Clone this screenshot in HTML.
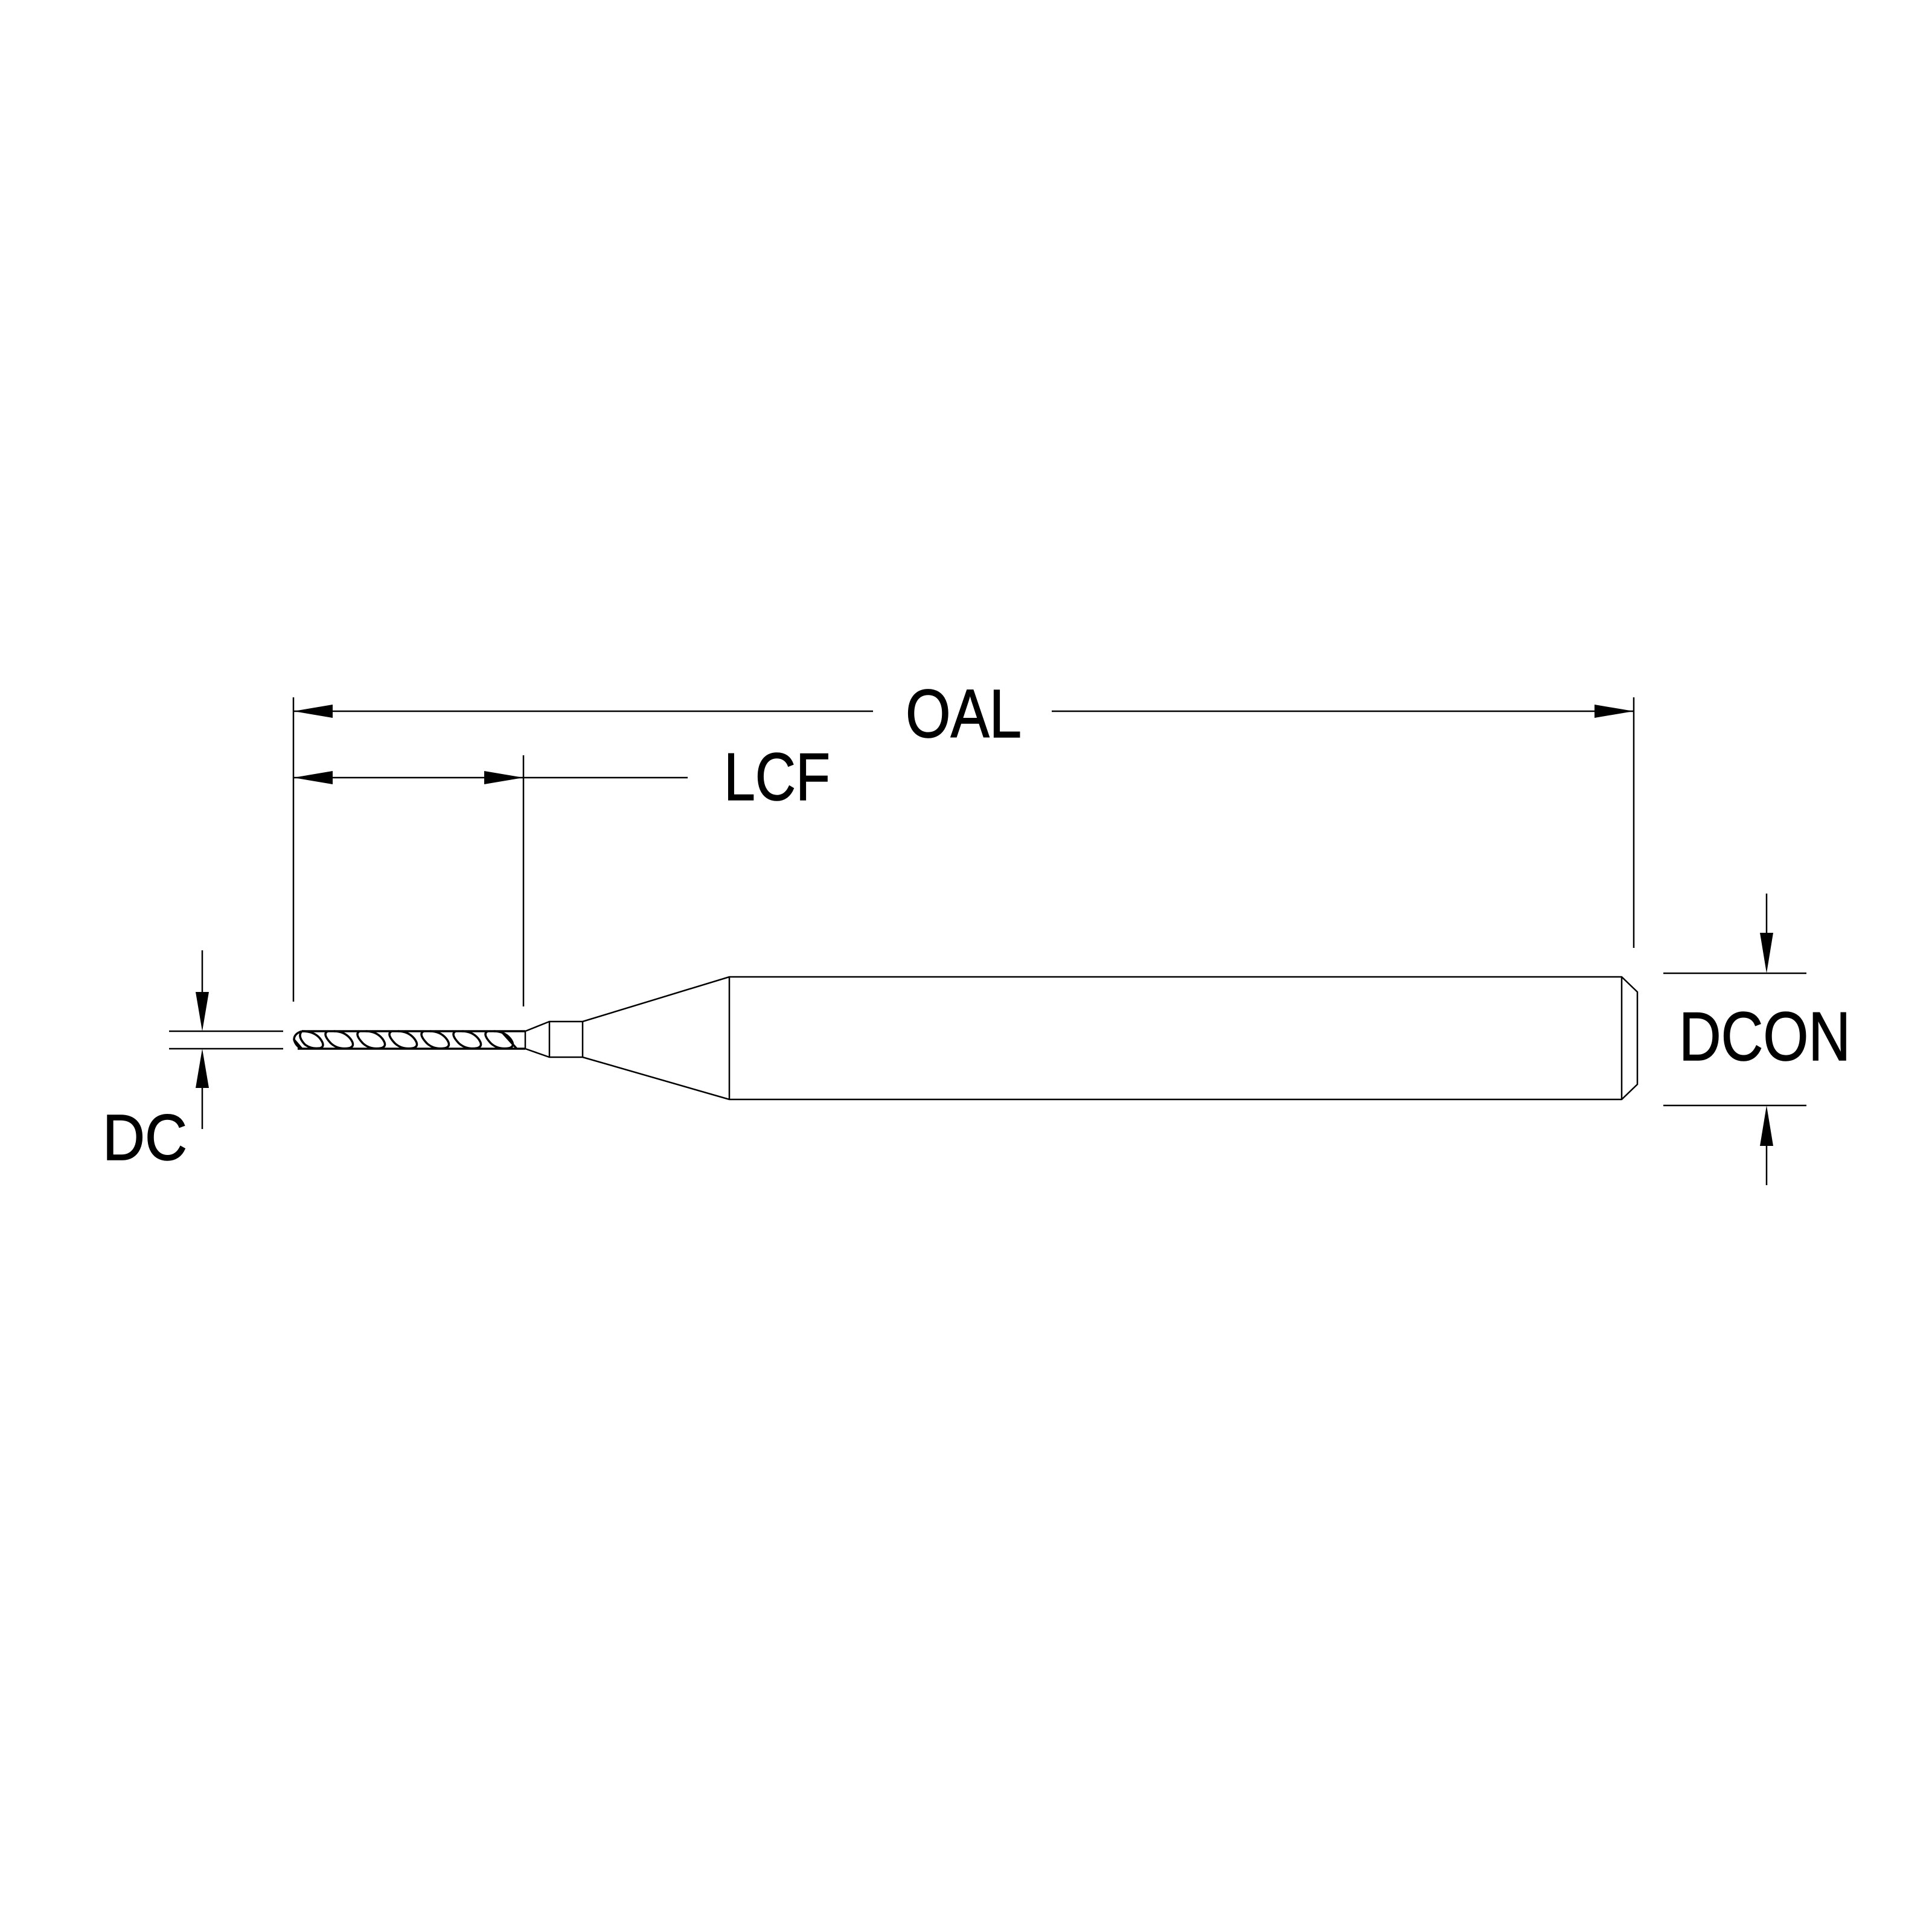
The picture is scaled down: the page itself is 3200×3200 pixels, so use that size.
<!DOCTYPE html>
<html><head><meta charset="utf-8"><style>
html,body{margin:0;padding:0;background:#fff;}
svg{display:block;}
text{font-family:"Liberation Sans",sans-serif;fill:#000;stroke:#000;stroke-width:1.5;}
</style></head><body>
<svg width="3200" height="3200" viewBox="0 0 3200 3200" xmlns="http://www.w3.org/2000/svg">
<rect width="3200" height="3200" fill="#fff"/>
<g stroke="#000" stroke-width="2.5" fill="none">
  <line x1="486" y1="1178" x2="1446" y2="1178"/>
  <line x1="1742" y1="1178" x2="2706" y2="1178"/>
  <line x1="486" y1="1155" x2="486" y2="1659"/>
  <line x1="2706" y1="1155" x2="2706" y2="1570"/>
  <line x1="486" y1="1288" x2="1139" y2="1288"/>
  <line x1="867" y1="1251" x2="867" y2="1667"/>
  <line x1="280" y1="1708" x2="469" y2="1708"/>
  <line x1="280" y1="1737" x2="469" y2="1737"/>
  <line x1="335" y1="1574" x2="335" y2="1660"/>
  <line x1="335" y1="1790" x2="335" y2="1870"/>
  <line x1="2755" y1="1612" x2="2992" y2="1612"/>
  <line x1="2755" y1="1831" x2="2992" y2="1831"/>
  <line x1="2926" y1="1480" x2="2926" y2="1560"/>
  <line x1="2926" y1="1880" x2="2926" y2="1963"/>
  <polyline points="870,1708 910,1692 965,1692 1208,1618 2686,1618 2712,1643 2712,1796 2686,1821 1208,1821 965,1751 910,1751 870,1737"/>
  <line x1="910" y1="1692" x2="910" y2="1751"/>
  <line x1="965" y1="1692" x2="965" y2="1751"/>
  <line x1="1208" y1="1618" x2="1208" y2="1821"/>
  <line x1="2686" y1="1618" x2="2686" y2="1821"/>
  <line x1="870" y1="1708" x2="870" y2="1737"/>
</g>
<g stroke="#000" stroke-width="3.5" fill="none" stroke-linejoin="round">
  <path d="M500,1708 L870,1708 M493,1737 L870,1737"/>
  <path d="M500,1708 Q487,1712 487,1722 Q490,1733 500,1737 M487,1722 L500,1737"/>
  <path d="M500,1708 Q492,1716 505,1730 Q515,1738 530,1736 Q540,1733 530,1720 Q520,1708 500,1708"/>
  <path d="M543,1708 Q533,1712 548,1728 Q560,1739 578,1736 Q590,1733 580,1720 Q570,1708 553,1708"/>
  <path d="M596,1708 Q586,1712 601,1728 Q613,1739 631,1736 Q643,1733 633,1720 Q623,1708 606,1708"/>
  <path d="M649,1708 Q639,1712 654,1728 Q666,1739 684,1736 Q696,1733 686,1720 Q676,1708 659,1708"/>
  <path d="M702,1708 Q692,1712 707,1728 Q719,1739 737,1736 Q749,1733 739,1720 Q729,1708 712,1708"/>
  <path d="M755,1708 Q745,1712 760,1728 Q772,1739 790,1736 Q802,1733 792,1720 Q782,1708 765,1708"/>
  <path d="M808,1708 Q798,1712 813,1728 Q825,1739 843,1736 Q855,1733 845,1720 Q835,1708 818,1708"/>
  <path d="M830,1708 L856,1737"/>
</g>
<g fill="#000">
  <polygon points="486,1178 551,1167 551,1189"/>
  <polygon points="2706,1178 2641,1167 2641,1189"/>
  <polygon points="486,1288 551,1277 551,1299"/>
  <polygon points="867,1288 802,1277 802,1299"/>
  <polygon points="335,1708 324,1643 346,1643"/>
  <polygon points="335,1737 324,1802 346,1802"/>
  <polygon points="2926,1612 2915,1545 2937,1545"/>
  <polygon points="2926,1831 2915,1898 2937,1898"/>
</g>
<text x="1500" y="1221" font-size="113" textLength="192" lengthAdjust="spacingAndGlyphs">OAL</text>
<text x="1199" y="1325" font-size="111" textLength="176" lengthAdjust="spacingAndGlyphs">LCF</text>
<text x="170" y="1921" font-size="108" textLength="140" lengthAdjust="spacingAndGlyphs">DC</text>
<text x="2781" y="1756" font-size="114" textLength="284" lengthAdjust="spacingAndGlyphs">DCON</text>
</svg>
</body></html>
